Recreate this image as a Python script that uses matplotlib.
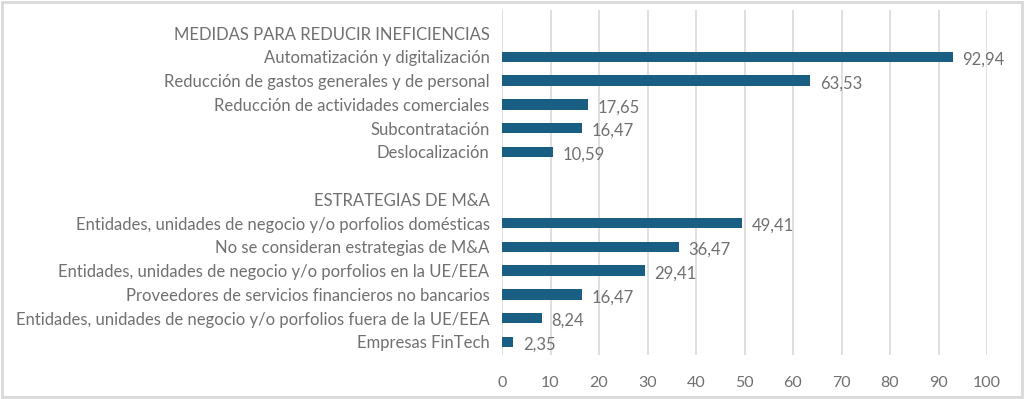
#!/usr/bin/env python3
"""Medidas para reducir ineficiencias y estrategias de M&A"""

import matplotlib.pyplot as plt
from matplotlib.patches import Rectangle

plt.rcParams['font.family'] = ['Lato', 'DejaVu Sans']

# rows top to bottom; None = no bar (header or blank row)
labels = [
    'MEDIDAS PARA REDUCIR INEFICIENCIAS',
    'Automatización y digitalización',
    'Reducción de gastos generales y de personal',
    'Reducción de actividades comerciales',
    'Subcontratación',
    'Deslocalización',
    '',
    'ESTRATEGIAS DE M&A',
    'Entidades, unidades de negocio y/o porfolios domésticas',
    'No se consideran estrategias de M&A',
    'Entidades, unidades de negocio y/o porfolios en la UE/EEA',
    'Proveedores de servicios financieros no bancarios',
    'Entidades, unidades de negocio y/o porfolios fuera de la UE/EEA',
    'Empresas FinTech',
]
values = [None, 92.94, 63.53, 17.65, 16.47, 10.59, None,
          None, 49.41, 36.47, 29.41, 16.47, 8.24, 2.35]
xticks = list(range(0, 101, 10))

bar_color = '#1a5f83'
text_color = '#707070'

fig = plt.figure(figsize=(10.24, 3.99), dpi=100)
ax = fig.add_axes([502 / 1024, 44 / 399, 485 / 1024, 345 / 399])

for i, v in enumerate(values):
    if v is None:
        continue
    ax.barh(i, v, height=0.44, color=bar_color, zorder=3)
    ax.text(v + 2.0, i + 0.12, f'{v:.2f}'.replace('.', ','), va='center',
            ha='left', fontsize=12, color=text_color)

ax.set_xlim(0, 100)
ax.set_ylim(13.55, -0.97)
ax.set_xticks(xticks)
ax.set_xticklabels([str(t) for t in xticks], fontsize=11.5, color=text_color)
ax.set_yticks(range(len(labels)))
ax.set_yticklabels(labels, fontsize=12, color=text_color)
ax.tick_params(axis='both', length=0)
ax.tick_params(axis='x', pad=15)
ax.tick_params(axis='y', pad=9)
ax.grid(axis='x', color='#d9d9d9', linewidth=1.2, zorder=0)
for s in ax.spines.values():
    s.set_visible(False)

fig.patches.append(Rectangle((0.002, 0.004), 0.996, 0.992, transform=fig.transFigure,
                             fill=False, edgecolor='#d9d9d9', linewidth=2))

fig.savefig('out.png', dpi=100)
